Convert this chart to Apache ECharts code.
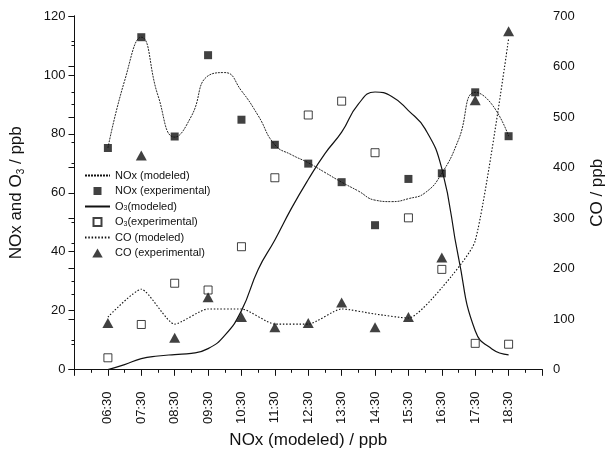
<!DOCTYPE html>
<html>
<head>
<meta charset="utf-8">
<script src="https://cdn.jsdelivr.net/npm/echarts@6/dist/echarts.min.js"></script>
<style>
  html, body { margin: 0; padding: 0; background: #fff; }
  #container { width: 614px; height: 454px; }
</style>
</head>
<body>
<div id="container"></div>
<script>
var times = ['06:30', '07:30', '08:30', '09:30', '10:30', '11:30', '12:30',
             '13:30', '14:30', '15:30', '16:30', '17:30', '18:30'];

// measurements, one per hour (left axis, ppb)
var noxExp = [75.2, 112.8, 79.1, 106.7, 84.8, 76.3, 69.9, 63.6, 49.0, 64.7, 66.6, 94.1, 79.2];
var o3Exp  = [4.0, 15.3, 29.3, 27.0, 41.7, 65.1, 86.4, 91.1, 73.6, 51.5, 34.0, 8.9, 8.6];
// CO measurements and model, one per hour (right axis, ppb)
var coExp   = [92, 424, 63, 143, 104, 84, 92, 133, 84, 104, 222, 533, 670];
var coModel = [104, 159, 90, 120, 120, 90, 90, 120, 110, 102, 162, 255, 655];

// model curves read every half hour, 06:30 .. 18:30 (left axis, ppb)
var noxModel = [75.2, 98, 112.8, 93, 78.9, 86, 99.7, 100.8, 94.6, 86.2, 76.3, 72.9, 70.2,
                66.9, 63.6, 60.6, 57.5, 57, 58, 60, 66.6, 78, 94.1, 90, 79.2];
var o3Model  = [0, 1.7, 3.7, 4.6, 5.1, 5.5, 7.1, 11.6, 20, 34, 44, 54.8, 64.5,
                73.3, 80.6, 90.1, 94.2, 92.7, 87.9, 81.7, 68.2, 38, 13.2, 7, 5];

var FONT = 'Liberation Sans, Arial, sans-serif';
var INK  = '#111';

// legend icons drawn inside a 25x9 box so they are not stretched
var ICON_SQUARE   = 'path://M0,0M25,9M8.5,0.5h8v8h-8z';
var ICON_TRIANGLE = 'path://M0,0M25,9M12.5,-0.5L18,9L7,9z';

function hourly(vals) {
    return vals.map(function (v, i) { return [i + 1, v]; });
}
function halfHourly(vals) {
    return vals.map(function (v, i) { return [1 + i / 2, v]; });
}

var dom = document.getElementById('container');
var myChart = echarts.init(dom, null, { renderer: 'canvas' });

var tickStyle = { color: INK, width: 1 };
var hideMark = { opacity: 0 };

var option = {
    backgroundColor: '#fff',
    animation: false,
    textStyle: { fontFamily: FONT, color: INK },
    grid: { left: 74, right: 58, top: 16, bottom: 82 },
    legend: {
        orient: 'vertical',
        left: 79,
        top: 165,
        itemWidth: 25,
        itemHeight: 9,
        itemGap: 4.5,
        data: [
            { name: 'NOx (modeled)', itemStyle: hideMark },
            { name: 'NOx (experimental)', icon: ICON_SQUARE },
            { name: 'O3(modeled)', itemStyle: hideMark },
            { name: 'O3(experimental)', icon: ICON_SQUARE },
            { name: 'CO (modeled)', itemStyle: hideMark },
            { name: 'CO (experimental)', icon: ICON_TRIANGLE }
        ],
        formatter: function (name) {
            if (name.indexOf('O3') === 0) {
                return '{t|O}{s|3}{t|' + name.slice(2) + '}';
            }
            return '{t|' + name + '}';
        },
        textStyle: {
            fontFamily: FONT,
            fontSize: 11,
            color: INK,
            rich: {
                t: { fontFamily: FONT, fontSize: 11, color: INK, lineHeight: 11 },
                s: { fontFamily: FONT, fontSize: 7, color: INK, verticalAlign: 'bottom', lineHeight: 8 }
            }
        }
    },
    xAxis: [
        {
            type: 'value',
            min: 0,
            max: 14,
            interval: 1,
            position: 'bottom',
            name: 'NOx (modeled) / ppb',
            nameLocation: 'middle',
            nameGap: 62,
            nameTextStyle: { fontFamily: FONT, fontSize: 17, color: INK },
            axisLine: { lineStyle: tickStyle },
            axisTick: { inside: false, length: 6, lineStyle: tickStyle },
            minorTick: { show: true, splitNumber: 2, length: 3, lineStyle: tickStyle },
            splitLine: { show: false },
            axisLabel: {
                rotate: 90,
                margin: 22,
                fontSize: 13,
                fontFamily: FONT,
                color: INK,
                formatter: function (v) {
                    return (v >= 1 && v <= times.length) ? times[v - 1] : '';
                }
            }
        },
        {
            type: 'value',
            min: 0,
            max: 14,
            interval: 1,
            position: 'top',
            axisLine: { lineStyle: tickStyle },
            axisTick: { inside: true, length: 6, lineStyle: tickStyle },
            minorTick: { show: true, splitNumber: 2, length: 3, lineStyle: tickStyle },
            splitLine: { show: false },
            axisLabel: { show: false }
        }
    ],
    yAxis: [
        {
            type: 'value',
            min: 0,
            max: 120,
            interval: 20,
            position: 'left',
            name: '{a|NOx and O}{s|3}{a| / ppb}',
            nameLocation: 'middle',
            nameGap: 48,
            nameRotate: 90,
            nameTextStyle: {
                fontFamily: FONT,
                fontSize: 17,
                color: INK,
                rich: {
                    a: { fontFamily: FONT, fontSize: 17, color: INK, lineHeight: 20 },
                    s: { fontFamily: FONT, fontSize: 10, color: INK, verticalAlign: 'bottom', lineHeight: 14 }
                }
            },
            axisLine: { show: true, lineStyle: tickStyle },
            axisTick: { show: true, inside: false, length: 6, lineStyle: tickStyle },
            minorTick: { show: true, splitNumber: 2, length: 3, lineStyle: tickStyle },
            splitLine: { show: false },
            axisLabel: { margin: 9, fontSize: 13, fontFamily: FONT, color: INK }
        },
        {
            type: 'value',
            min: 0,
            max: 700,
            interval: 100,
            position: 'right',
            name: 'CO / ppb',
            nameLocation: 'middle',
            nameGap: 47,
            nameRotate: 90,
            nameTextStyle: { fontFamily: FONT, fontSize: 17, color: INK },
            axisLine: { show: true, lineStyle: tickStyle },
            axisTick: { show: true, inside: true, length: 6, lineStyle: tickStyle },
            minorTick: { show: true, splitNumber: 2, length: 3, lineStyle: tickStyle },
            splitLine: { show: false },
            axisLabel: { margin: 11, fontSize: 13, fontFamily: FONT, color: INK }
        }
    ],
    series: [
        {
            name: 'NOx (modeled)',
            type: 'line',
            data: halfHourly(noxModel),
            smooth: 0.5,
            showSymbol: false,
            lineStyle: { color: INK, width: 0.9, type: [2, 1] },
            itemStyle: { color: INK },
            z: 2
        },
        {
            name: 'NOx (experimental)',
            type: 'scatter',
            data: hourly(noxExp),
            symbol: 'rect',
            symbolSize: 8,
            itemStyle: { color: INK },
            z: 5
        },
        {
            name: 'O3(modeled)',
            type: 'line',
            data: halfHourly(o3Model),
            smooth: 0.5,
            showSymbol: false,
            lineStyle: { color: INK, width: 1.2, type: 'solid' },
            itemStyle: { color: INK },
            z: 2
        },
        {
            name: 'O3(experimental)',
            type: 'scatter',
            data: hourly(o3Exp),
            symbol: 'rect',
            symbolSize: 8,
            itemStyle: { color: '#fff', borderColor: INK, borderWidth: 1 },
            z: 5
        },
        {
            name: 'CO (modeled)',
            type: 'line',
            yAxisIndex: 1,
            data: hourly(coModel),
            smooth: 0.2,
            showSymbol: false,
            lineStyle: { color: INK, width: 1.1, type: [1.5, 1.8] },
            itemStyle: { color: INK },
            z: 2
        },
        {
            name: 'CO (experimental)',
            type: 'scatter',
            yAxisIndex: 1,
            data: hourly(coExp),
            symbol: 'triangle',
            symbolSize: [11, 10],
            itemStyle: { color: INK },
            z: 5
        }
    ]
};

myChart.setOption(option);
</script>
</body>
</html>
